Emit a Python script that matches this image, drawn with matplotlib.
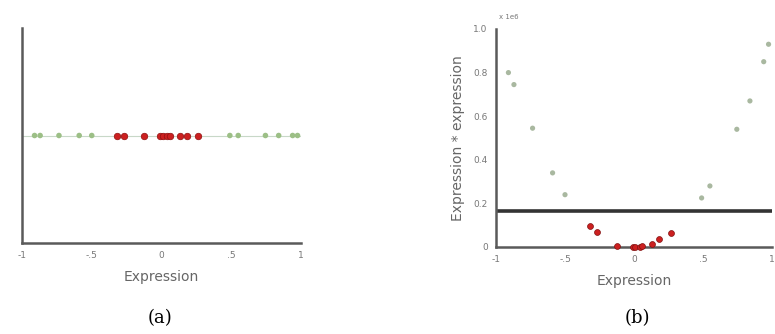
import matplotlib
matplotlib.use("Agg")
import matplotlib.pyplot as plt

# Panel (a): expression values on a line
green_x = [-0.91, -0.87, -0.735, -0.59, -0.50, 0.49, 0.55, 0.745, 0.84, 0.94, 0.975]
red_x = [-0.32, -0.27, -0.125, -0.01, 0.01, 0.04, 0.06, 0.13, 0.18, 0.265]

# Panel (b): expression * expression (x 1e6)
green_y = [0.80, 0.745, 0.545, 0.34, 0.24, 0.225, 0.28, 0.54, 0.67, 0.85, 0.93]
red_y = [0.096, 0.068, 0.005, 0.0, 0.0, 0.002, 0.004, 0.012, 0.036, 0.065]
threshold = 0.165

xticks = [-1, -0.5, 0, 0.5, 1]
xticklabels = ["-1", "-.5", "0", ".5", "1"]
yticks = [0, 0.2, 0.4, 0.6, 0.8, 1.0]
yticklabels = ["0", "0.2", "0.4", "0.6", "0.8", "1.0"]

W, H = 775, 334
fig = plt.figure(figsize=(W / 100, H / 100), dpi=100)
fig.patch.set_facecolor("white")

spine_c = "#5a5a5a"
tick_c = "#777777"
lab_c = "#666666"
green_c = "#9cbf86"
green_b = "#a9b8a0"
red_c = "#cc2020"

def style(ax):
    for s in ["top", "right"]:
        ax.spines[s].set_visible(False)
    for s in ["left", "bottom"]:
        ax.spines[s].set_color(spine_c)
        ax.spines[s].set_linewidth(1.8)
    ax.tick_params(length=0, labelsize=6.5, colors=tick_c, pad=6)

# Panel (a)
axa = fig.add_axes([22 / W, 1 - 243 / H, 279 / W, 215 / H])
style(axa)
axa.axhline(0, color="#c8d8c8", lw=0.8, zorder=1)
axa.scatter(green_x, [0] * len(green_x), s=16, color=green_c, zorder=3, edgecolors="none")
axa.scatter(red_x, [0] * len(red_x), s=22, color=red_c, zorder=3, edgecolors="#901010", linewidths=0.5)
axa.set_xlim(-1, 1)
axa.set_ylim(-1, 1)
axa.set_yticks([])
axa.set_xticks(xticks)
axa.set_xticklabels(xticklabels)
axa.set_xlabel("Expression", fontsize=10, color=lab_c, labelpad=7)

# Panel (b)
axb = fig.add_axes([496 / W, 1 - 247 / H, 276 / W, 218 / H])
style(axb)
axb.scatter(green_x, green_y, s=14, color=green_b, zorder=3, edgecolors="none")
axb.scatter(red_x, red_y, s=18, color=red_c, zorder=3, edgecolors="#801010", linewidths=0.5, clip_on=False)
axb.axhline(threshold, color="#333333", lw=2.6, zorder=2)
axb.set_xlim(-1, 1)
axb.set_ylim(0, 1.0)
axb.set_xticks(xticks)
axb.set_xticklabels(xticklabels)
axb.set_yticks(yticks)
axb.set_yticklabels(yticklabels)
axb.set_xlabel("Expression", fontsize=10, color=lab_c, labelpad=7)
axb.set_ylabel("Expression * expression", fontsize=10, color=lab_c, labelpad=6)
axb.text(0.01, 1.04, "x 1e6", transform=axb.transAxes, fontsize=5, color=tick_c, ha="left", va="bottom")

fig.text(160 / W, 1 - 318 / H, "(a)", fontsize=13, family="DejaVu Serif", ha="center", va="center")
fig.text(637 / W, 1 - 318 / H, "(b)", fontsize=13, family="DejaVu Serif", ha="center", va="center")

fig.savefig("out.png", dpi=100, facecolor="white")
